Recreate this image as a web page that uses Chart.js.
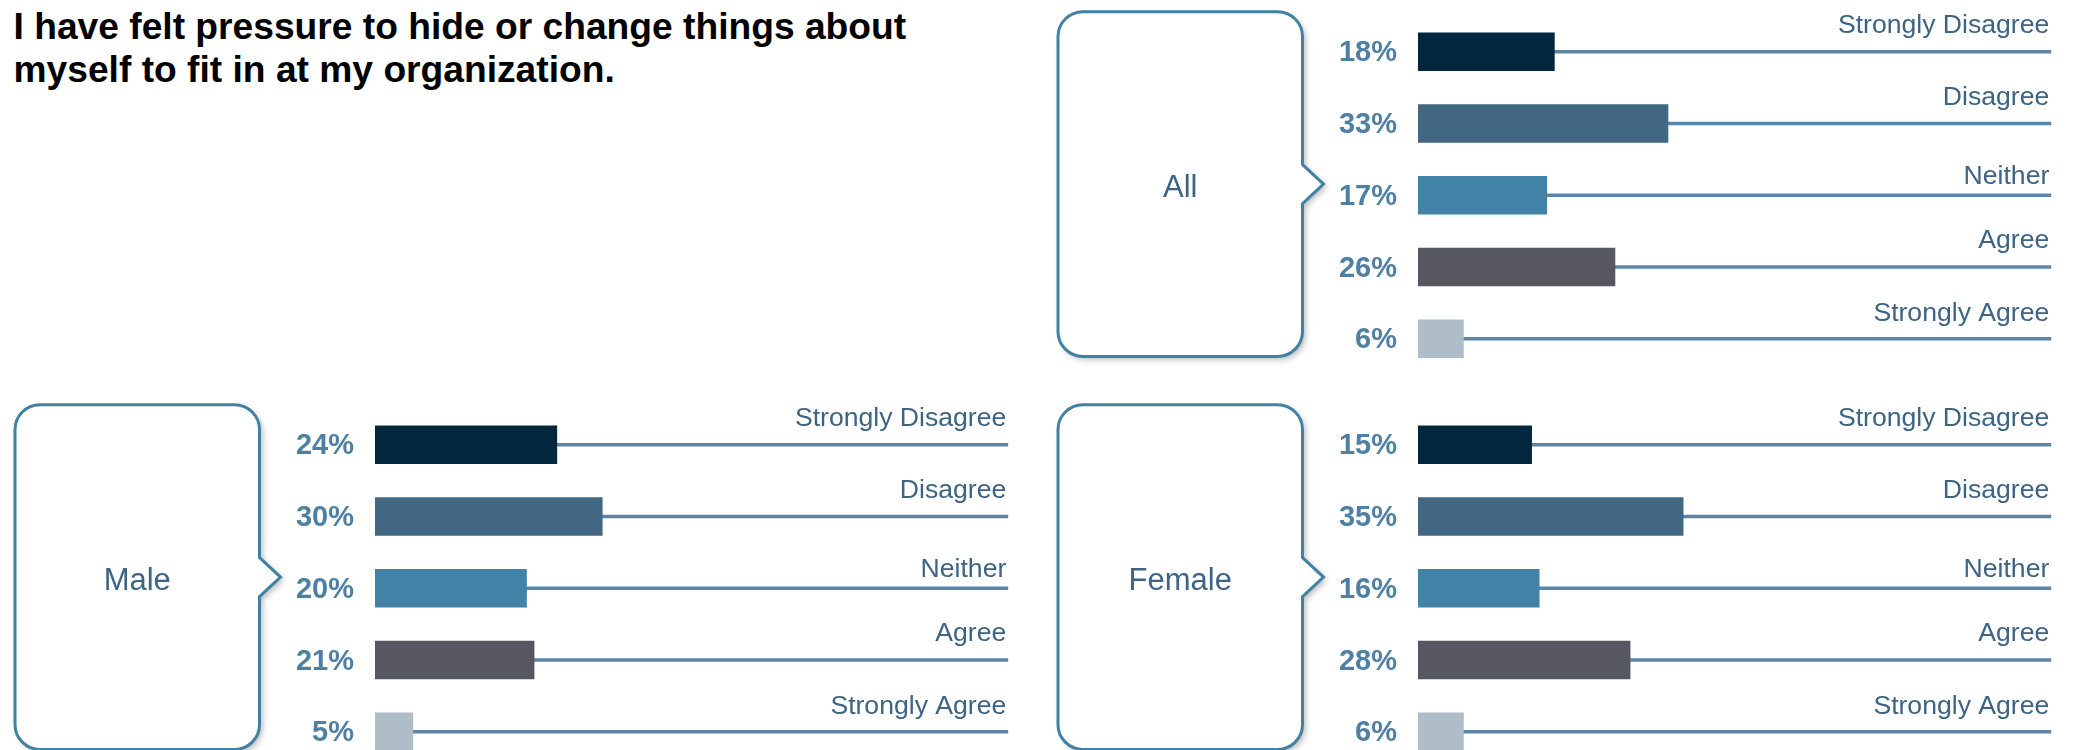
<!DOCTYPE html>
<html>
<head>
<meta charset="utf-8">
<title>Pressure to hide or change things</title>
<script src="https://cdn.jsdelivr.net/npm/chart.js@4.4.1/dist/chart.umd.min.js"></script>
<style>
  html, body { margin: 0; padding: 0; background: #ffffff; }
  body {
    position: relative;
    width: 2074px;
    height: 750px;
    overflow: hidden;
    font-family: 'Liberation Sans', Arial, Helvetica, sans-serif;
  }
  #title {
    position: absolute;
    left: 13.5px;
    top: 5px;
    margin: 0;
    font-size: 37.2px;
    font-weight: bold;
    line-height: 42.5px;
    color: #000000;
    white-space: nowrap;
  }
  canvas { position: absolute; }
</style>
</head>
<body>
<h1 id="title">I have felt pressure to hide or change things about<br>myself to fit in at my organization.</h1>
<canvas id="allChart" width="1034" height="400" style="left:1043px; top:0px;"></canvas>
<canvas id="maleChart" width="1034" height="400" style="left:0px; top:393px;"></canvas>
<canvas id="femaleChart" width="1034" height="400" style="left:1043px; top:393px;"></canvas>

<script>
// Survey responses, in display order
const responses = ['Strongly Disagree', 'Disagree', 'Neither', 'Agree', 'Strongly Agree'];

// Share of respondents per response (%)
const allPct = [18, 33, 17, 26, 6];
const malePct = [24, 30, 20, 21, 5];
const femalePct = [15, 35, 16, 28, 6];

// Group names shown in the callout boxes
const groups = ['All', 'Male', 'Female'];

// One colour per response
const responseColors = ['#03263f', '#426782', '#4282a6', '#575761', '#afbdc9'];
const trackColor = '#5a87a8';

// Right end of the value axis (the guide lines run up to it)
const AXIS_MAX = 83.6;

// How far each response name sits above its guide line (px)
const LABEL_RAISE = [18.5, 18.5, 11.7, 19.5, 17.7];

const FONT = "'Liberation Sans', Arial, Helvetica, sans-serif";
Chart.defaults.font.family = FONT;
Chart.defaults.animation = false;

// Rounded callout box with a pointer towards the bars, holding the group name
const calloutBox = {
  id: 'calloutBox',
  beforeDraw(chart, args, opts) {
    const ctx = chart.ctx;
    const L = 15, R = 259.5, T = 11.7, B = 356.5, r = 25;
    const tipX = 280.5, tipY = (T + B) / 2, half = 19.5;
    ctx.save();
    ctx.beginPath();
    ctx.moveTo(L + r, T);
    ctx.lineTo(R - r, T);
    ctx.arcTo(R, T, R, T + r, r);
    ctx.lineTo(R, tipY - half);
    ctx.lineTo(tipX, tipY);
    ctx.lineTo(R, tipY + half);
    ctx.lineTo(R, B - r);
    ctx.arcTo(R, B, R - r, B, r);
    ctx.lineTo(L + r, B);
    ctx.arcTo(L, B, L, B - r, r);
    ctx.lineTo(L, T + r);
    ctx.arcTo(L, T, L + r, T, r);
    ctx.closePath();
    ctx.shadowColor = 'rgba(0, 0, 0, 0.28)';
    ctx.shadowBlur = 6;
    ctx.shadowOffsetX = 3;
    ctx.shadowOffsetY = 3;
    ctx.fillStyle = '#ffffff';
    ctx.fill();
    ctx.shadowColor = 'transparent';
    ctx.lineWidth = 3;
    ctx.strokeStyle = '#4181a4';
    ctx.stroke();
    ctx.fillStyle = '#3d6484';
    ctx.font = '31px ' + FONT;
    ctx.textAlign = 'center';
    ctx.textBaseline = 'middle';
    ctx.fillText(opts.label, (L + R) / 2, tipY + 4.5);
    ctx.restore();
  }
};

// Response names, right-aligned above each guide line
const responseLabels = {
  id: 'responseLabels',
  afterDatasetsDraw(chart) {
    const { ctx, chartArea } = chart;
    const yScale = chart.scales.y;
    ctx.save();
    ctx.font = '26.6px ' + FONT;
    ctx.fillStyle = '#3d6484';
    ctx.textAlign = 'right';
    ctx.textBaseline = 'alphabetic';
    chart.data.labels.forEach((label, i) => {
      ctx.fillText(label, chartArea.right - 2, yScale.getPixelForValue(i) - LABEL_RAISE[i]);
    });
    ctx.restore();
  }
};

function drawPanel(canvasId, groupLabel, pct) {
  return new Chart(document.getElementById(canvasId), {
    type: 'bar',
    data: {
      labels: responses,
      datasets: [
        {
          data: pct,
          backgroundColor: responseColors,
          barThickness: 38,
          grouped: false,
          order: 0
        },
        {
          // thin guide line from the end of each bar to the right edge
          data: pct.map(v => [v, AXIS_MAX]),
          backgroundColor: trackColor,
          barThickness: 3,
          grouped: false,
          order: 1
        }
      ]
    },
    options: {
      indexAxis: 'y',
      responsive: false,
      animation: false,
      layout: { padding: { left: 275, right: 25.7, top: 15.9, bottom: 25.35 } },
      plugins: {
        legend: { display: false },
        tooltip: { enabled: false },
        calloutBox: { label: groupLabel }
      },
      scales: {
        x: { display: false, min: 0, max: AXIS_MAX },
        y: {
          type: 'category',
          position: 'left',
          offset: true,
          grid: { display: false, drawTicks: false },
          border: { display: false },
          ticks: {
            padding: 21,
            labelOffset: 1.5,
            color: '#4f80a4',
            font: { size: 29, weight: 'bold' },
            callback: (value, index) => pct[index] + '%'
          },
          afterFit: (scale) => { scale.width = 100; scale.paddingTop = 0; scale.paddingBottom = 0; }
        }
      }
    },
    plugins: [calloutBox, responseLabels]
  });
}

drawPanel('allChart', groups[0], allPct);
drawPanel('maleChart', groups[1], malePct);
drawPanel('femaleChart', groups[2], femalePct);
</script>
</body>
</html>
